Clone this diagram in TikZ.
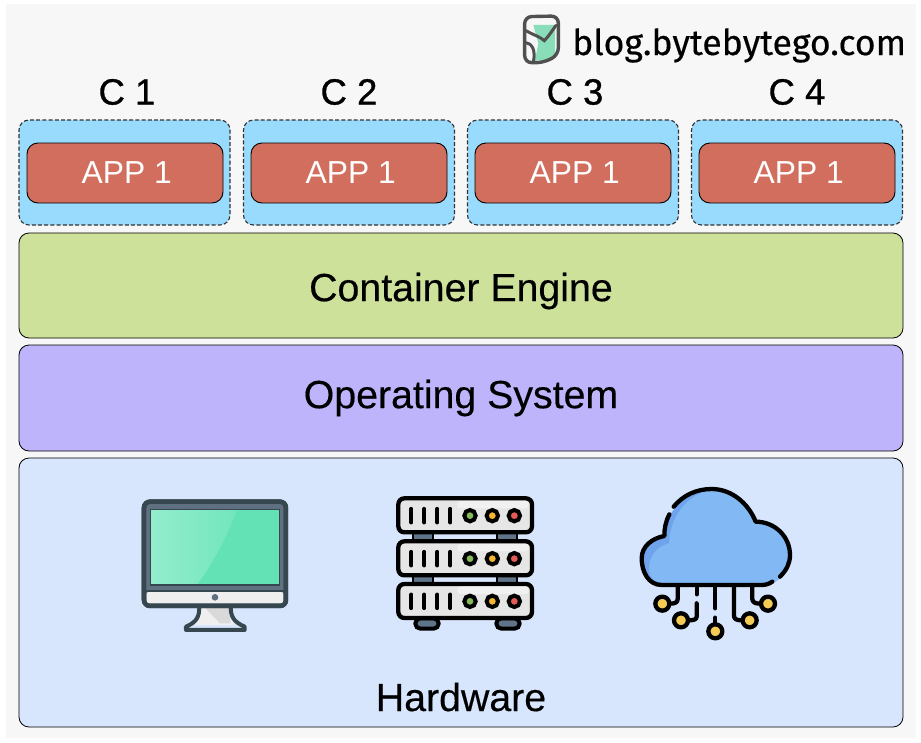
\documentclass[tikz,border=0pt]{standalone}
\usepackage{fontspec}
\setmainfont{Liberation Sans}
\newfontfamily\labelfont[FakeBold=0.35]{Liberation Sans}
\newfontfamily\headfont[FakeBold=0.8]{Liberation Sans}
\newfontfamily\blogfont[FakeBold=0.4]{Fira Sans}
\definecolor{pagebg}{HTML}{F7F7F7}
\definecolor{cbox}{HTML}{99DBFD}
\definecolor{appbox}{HTML}{D26E5E}
\definecolor{engine}{HTML}{CDE19B}
\definecolor{osbox}{HTML}{BEB4FC}
\definecolor{hwbox}{HTML}{D8E6FD}
\definecolor{dk}{HTML}{37474F}
\definecolor{scr}{HTML}{63E3B5}
\definecolor{scrl}{HTML}{93EDCD}
\definecolor{bez}{HTML}{5F7080}
\definecolor{chin}{HTML}{EFEFEF}
\definecolor{unit}{HTML}{E6E6E6}
\definecolor{unitl}{HTML}{F1F1F1}
\definecolor{leg}{HTML}{5F7489}
\definecolor{ledg}{HTML}{86B95B}
\definecolor{ledy}{HTML}{F2B632}
\definecolor{ledr}{HTML}{E45A55}
\definecolor{cloud}{HTML}{82B8F3}
\definecolor{cloudd}{HTML}{6FA3EC}
\definecolor{pin}{HTML}{F3CB55}
\definecolor{logog}{HTML}{8ADDB9}
\definecolor{logod}{HTML}{505050}
\tikzset{
  layer/.style={draw=black,line width=.8pt,rounded corners=10pt,minimum width=884pt,inner sep=0pt},
  biglabel/.style={inner sep=0pt,font=\labelfont\fontsize{39.3}{44}\selectfont},
  cnt/.style={draw=black!80,fill=cbox,dash pattern=on 4pt off 2.2pt,line width=1.1pt,rounded corners=10pt,minimum width=211pt,minimum height=105pt,inner sep=0pt},
  appb/.style={draw=black,fill=appbox,line width=.9pt,rounded corners=11pt,minimum width=196pt,minimum height=60pt,inner sep=0pt,text=white,font=\fontsize{31.8}{36}\selectfont,execute at begin node={\hspace*{3.5pt}}},
  clabel/.style={inner sep=0pt,font=\headfont\fontsize{36.5}{40}\selectfont},
  icon/.style={line width=4.3pt,line cap=round,line join=round},
  led/.style={draw=black,line width=4pt}
}
\begin{document}
\begin{tikzpicture}[x=1pt,y=-1pt]
\useasboundingbox (0,0) rectangle (921,742);
\fill[white] (0,0) rectangle (921,742);
\fill[pagebg] (6,4) rectangle (916,738);

% logo
\begin{scope}[shift={(500,0)},x=.3333pt,y=-.3333pt]
  \fill[logog] (100,75) -- (165,75) -- (165,165) -- (130,182) -- (105,182) -- (115,130) -- cycle;
  \draw[logod,line width=3.4pt,line join=round,rounded corners=7pt] (74,50) -- (175,48) -- (175,165) -- (130,188) -- (74,188) -- cycle;
  \draw[logod,line width=3pt,line cap=round] (78,92) .. controls (100,105) and (120,110) .. (133,122) .. controls (145,110) and (158,90) .. (168,76);
  \draw[logod,line width=3pt,line cap=round] (78,128) .. controls (95,130) and (108,150) .. (100,186);
\end{scope}
\node[anchor=base west,inner sep=0pt,font=\blogfont\fontsize{35.6}{40}\selectfont] (blog) at (572,55) {blog.bytebytego.com};

% container labels
\node[clabel] (c1) at (127,92) {C 1};
\node[clabel] (c2) at (349,92) {C 2};
\node[clabel] (c3) at (575,92) {C 3};
\node[clabel] (c4) at (797,92) {C 4};

% containers
\node[cnt] (box1) at (124.5,172.5) {};
\node[cnt] (box2) at (349,172.5) {};
\node[cnt] (box3) at (573,172.5) {};
\node[cnt] (box4) at (797,172.5) {};
\node[appb] (app1) at (125,173) {APP 1};
\node[appb] (app2) at (349,173) {APP 1};
\node[appb] (app3) at (573,173) {APP 1};
\node[appb] (app4) at (797,173) {APP 1};

% layers
\node[layer,fill=engine,minimum height=105pt] (engine) at (461,285.5) {};
\node[layer,fill=osbox,minimum height=106pt] (os) at (461,398) {};
\node[layer,fill=hwbox,minimum height=269pt] (hw) at (461,592.5) {};
\node[biglabel] (enginel) at (461,291) {Container Engine};
\node[biglabel] (osl) at (461,398) {Operating System};
\node[biglabel] (hwl) at (461,697) {Hardware};

% monitor
\begin{scope}[shift={(120,480)},x=.3333pt,y=-.3333pt]
  \fill[chin] (240,375) -- (330,375) -- (340,435) -- (225,435) -- cycle;
  \fill[black!15] (250,378) -- (325,378) -- (332,430) -- (300,430) -- cycle;
  \draw[dk,line width=4pt,line join=round] (238,378) .. controls (238,410) and (232,425) .. (198,440) -- (198,450) -- (374,450) -- (374,440) .. controls (340,425) and (332,410) .. (332,378);
  \filldraw[draw=dk,fill=bez,line width=4.5pt,rounded corners=6pt] (72,65) rectangle (498,378);
  \fill[chin,rounded corners=2pt] (80,336) rectangle (490,370);
  \draw[dk,line width=2pt] (72,332) -- (498,332);
  \draw[dk,line width=4.5pt,rounded corners=6pt] (72,65) rectangle (498,378);
  \fill[scr] (92,88) rectangle (478,315);
  \shade[left color=scrl,right color=scr!70!scrl] (92,88) -- (352,88) .. controls (320,170) and (280,250) .. (230,315) -- (92,315) -- cycle;
  \draw[dk,line width=1.5pt] (92,88) rectangle (478,315);
  \fill[bez] (285,352) circle (10);
\end{scope}

% server
\begin{scope}[shift={(380,480)},x=.3333pt,y=-.3333pt]
  \foreach \lx in {98,352}{
    \filldraw[draw=black,fill=leg,line width=2pt] (\lx,155) rectangle (\lx+60,185);
    \filldraw[draw=black,fill=leg,line width=2pt] (\lx,285) rectangle (\lx+60,312);
  }
  \filldraw[draw=black,fill=leg,line width=4pt,rounded corners=5pt] (106,415) rectangle (176,446);
  \filldraw[draw=black,fill=leg,line width=4pt,rounded corners=5pt] (349,415) rectangle (419,446);
  \foreach \uy in {55,184,312}{
    \filldraw[draw=black,fill=unit,line width=4.3pt,rounded corners=6pt] (55,\uy) rectangle (456,\uy+102);
    \fill[unitl,rounded corners=3pt] (232,\uy+8) rectangle (446,\uy+30);
    \foreach \bx in {94,133,172,211}{
      \draw[black,line width=4.3pt,line cap=round] (\bx,\uy+32) -- (\bx,\uy+72);
    }
    \filldraw[led,fill=ledg] (270,\uy+52) circle (17);
    \filldraw[led,fill=ledy] (337,\uy+52) circle (17);
    \filldraw[led,fill=ledr] (403,\uy+52) circle (17);
  }
\end{scope}

% cloud
\begin{scope}[shift={(625,475)},x=.3333pt,y=-.3333pt]
  \fill[cloud] (110,330) .. controls (70,330) and (50,290) .. (50,250) .. controls (50,215) and (80,190) .. (118,183) .. controls (125,100) and (190,42) .. (260,42) .. controls (320,42) and (370,85) .. (392,140) .. controls (450,140) and (495,185) .. (495,240) .. controls (495,280) and (470,330) .. (410,330) -- cycle;
  \fill[cloudd] (110,330) .. controls (70,330) and (50,290) .. (50,250) .. controls (50,215) and (80,190) .. (118,183) .. controls (125,100) and (190,42) .. (260,42) .. controls (200,55) and (135,110) .. (132,205) .. controls (90,215) and (70,250) .. (72,285) .. controls (75,310) and (90,325) .. (110,330) -- cycle;
  \begin{scope}[icon,draw=black]
    \draw (146,95) .. controls (175,60) and (215,42) .. (260,42) .. controls (320,42) and (370,85) .. (392,140) .. controls (450,140) and (495,185) .. (495,240) .. controls (495,265) and (485,285) .. (465,305);
    \draw (133,118) .. controls (122,140) and (118,160) .. (118,183) .. controls (80,190) and (50,215) .. (50,250) .. controls (50,290) and (70,330) .. (110,330) -- (410,330) .. controls (422,330) and (432,327) .. (442,320);
    % wires
    \draw (158,332) -- (158,372) .. controls (158,382) and (150,386) .. (135,386);
    \draw (215,335) -- (215,358);
    \draw (215,385) -- (215,425) .. controls (215,434) and (205,436) .. (190,436);
    \draw (271,335) -- (271,400);
    \draw (271,428) -- (271,445);
    \draw (327,335) -- (327,422) .. controls (327,432) and (335,436) .. (350,436);
    \draw (382,335) -- (382,372) .. controls (382,382) and (392,386) .. (405,386);
    \filldraw[fill=pin] (112,386) circle (21);
    \filldraw[fill=pin] (168,436) circle (21);
    \filldraw[fill=pin] (271,469) circle (21);
    \filldraw[fill=pin] (374,436) circle (21);
    \filldraw[fill=pin] (429,386) circle (21);
  \end{scope}
\end{scope}
\end{tikzpicture}
\end{document}
